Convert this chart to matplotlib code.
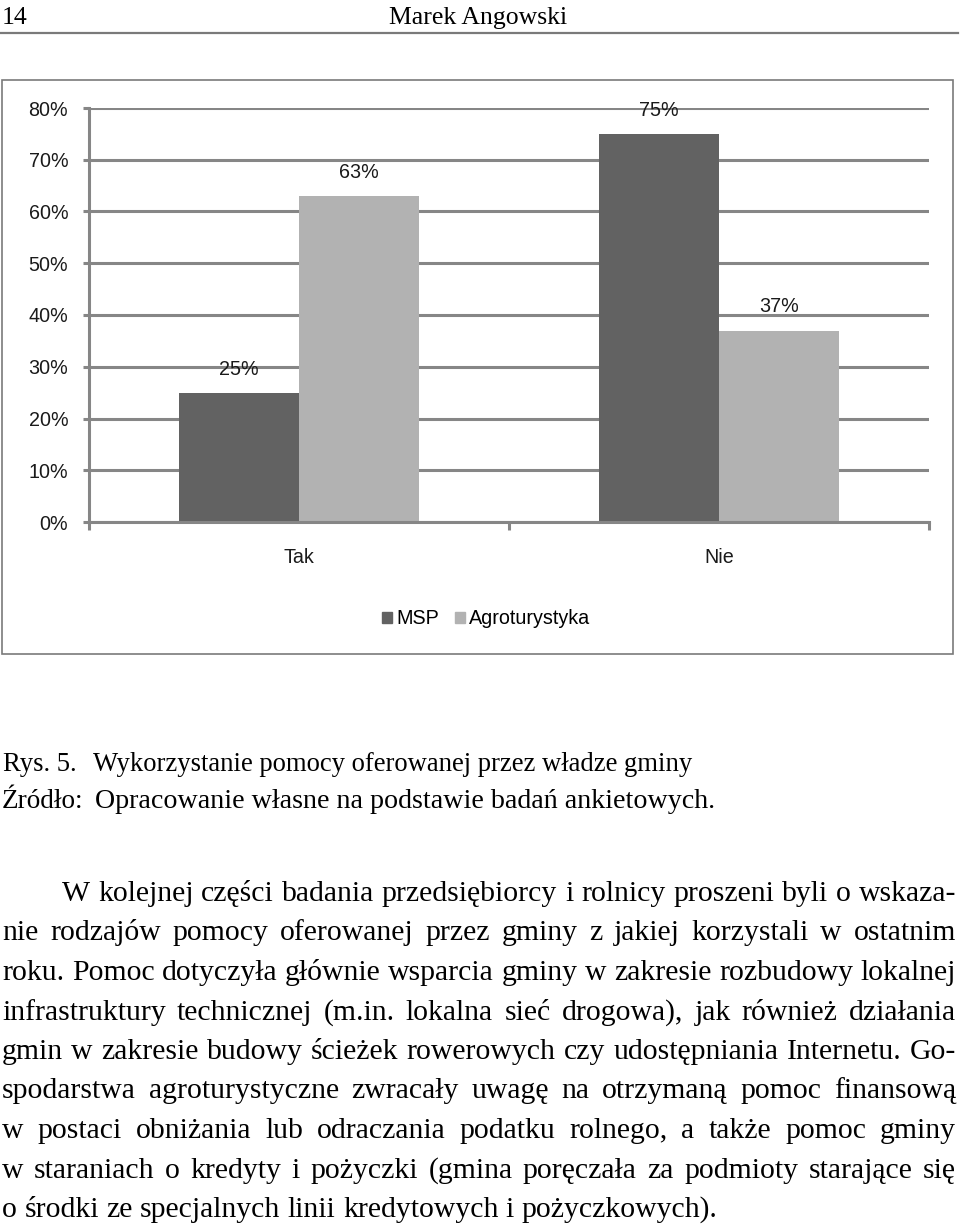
import matplotlib
matplotlib.use('Agg')
import matplotlib.pyplot as plt
from matplotlib import font_manager
from matplotlib.patches import Rectangle, Patch
from matplotlib.lines import Line2D
import numpy as np

W, H = 960, 1228

categories = ['Tak', 'Nie']
msp = [25, 75]
agro = [63, 37]
series_names = ['MSP', 'Agroturystyka']
yticks = [0, 10, 20, 30, 40, 50, 60, 70, 80]

header_page = '14'
header_author = 'Marek Angowski'
caption_num = 'Rys. 5.'
caption_text = 'Wykorzystanie pomocy oferowanej przez władze gminy'
source_head = 'Źródło:'
source_text = 'Opracowanie własne na podstawie badań ankietowych.'
body_lines = [
    'W kolejnej części badania przedsiębiorcy i rolnicy proszeni byli o wskaza-',
    'nie rodzajów pomocy oferowanej przez gminy z jakiej korzystali w ostatnim',
    'roku. Pomoc dotyczyła głównie wsparcia gminy w zakresie rozbudowy lokalnej',
    'infrastruktury technicznej (m.in. lokalna sieć drogowa), jak również działania',
    'gmin w zakresie budowy ścieżek rowerowych czy udostępniania Internetu. Go-',
    'spodarstwa agroturystyczne zwracały uwagę na otrzymaną pomoc finansową',
    'w postaci obniżania lub odraczania podatku rolnego, a także pomoc gminy',
    'w staraniach o kredyty i pożyczki (gmina poręczała za podmioty starające się',
    'o środki ze specjalnych linii kredytowych i pożyczkowych).',
]

names = {f.name for f in font_manager.fontManager.ttflist}
if 'Liberation Sans Narrow' in names:
    SANS, SANS_SIZE = 'Liberation Sans Narrow', 15.5
else:
    SANS, SANS_SIZE = 'Liberation Sans', 14.2
SERIF = 'Liberation Serif'
BODY = 21.4

GRAY = '#868686'
DARK = '#626262'
LIGHT = '#b2b2b2'
INK = '#1a1a1a'


def fx(px):
    return px / W


def fy(py):
    return 1 - py / H


fig = plt.figure(figsize=(W / 100, H / 100), dpi=100)
r = fig.canvas.get_renderer()

# header
fig.text(fx(2), fy(24), header_page, family=SERIF, fontsize=18.5, va='baseline')
fig.text(fx(478), fy(24), header_author, family=SERIF, fontsize=18.5, va='baseline', ha='center')
fig.add_artist(Line2D([0, fx(958)], [fy(33), fy(33)], color='#7a7a7a', lw=1.6))

# chart frame
fig.add_artist(Rectangle((fx(2), fy(654)), fx(951), (654 - 80) / H, transform=fig.transFigure,
                         fill=False, edgecolor='#7a7a7a', lw=1.2))

ax = fig.add_axes([fx(89), fy(522), fx(840), (522 - 108) / H])
x = np.arange(len(categories))
w = 0.286
b1 = ax.bar(x - w / 2, msp, w, color=DARK, zorder=3)
b2 = ax.bar(x + w / 2, agro, w, color=LIGHT, zorder=3)
for bars, vals in ((b1, msp), (b2, agro)):
    for b, v in zip(bars, vals):
        ax.annotate(f'{v}%', (b.get_x() + b.get_width() / 2, v), xytext=(0, 17),
                    textcoords='offset points', ha='center', va='center',
                    family=SANS, fontsize=SANS_SIZE, color=INK)

ax.set_xlim(-0.5, len(categories) - 0.5)
ax.set_ylim(0, 80)
ax.set_yticks(yticks)
ax.set_yticklabels([f'{t}%' for t in yticks], family=SANS, fontsize=SANS_SIZE, color=INK)
ax.set_xticks(x)
ax.set_xticklabels(categories, family=SANS, fontsize=SANS_SIZE, color=INK)
ax.set_xticks(np.arange(len(categories) + 1) - 0.5, minor=True)
ax.tick_params(axis='x', which='major', length=0, pad=18.5)
ax.tick_params(axis='x', which='minor', length=6, width=2.2, color=GRAY, direction='out')
ax.tick_params(axis='y', length=4.5, width=2.2, color=GRAY, pad=10.5)
ax.grid(axis='y', color=GRAY, lw=2.2, zorder=0)
ax.set_axisbelow(True)
for s in ('top', 'right'):
    ax.spines[s].set_visible(False)
for s in ('left', 'bottom'):
    ax.spines[s].set_color(GRAY)
    ax.spines[s].set_linewidth(2.2)
ax.spines['bottom'].set_zorder(4)

handles = [Patch(color=DARK), Patch(color=LIGHT)]
fig.legend(handles, series_names, loc='center', bbox_to_anchor=(fx(486), fy(619)), ncol=2,
           frameon=False, prop={'family': SANS, 'size': SANS_SIZE}, handlelength=0.5,
           handleheight=0.5, handletextpad=0.2, columnspacing=0.8)

# caption
fig.text(fx(3), fy(771), caption_num, family=SERIF, fontsize=19.2, va='baseline')
fig.text(fx(93), fy(771), caption_text, family=SERIF, fontsize=19.2, va='baseline')
fig.text(fx(2), fy(808), source_head, family=SERIF, fontsize=19.6, va='baseline')
fig.text(fx(95), fy(808), source_text, family=SERIF, fontsize=20.2, va='baseline')


def put_line(line, y, x0, x1, justify):
    words = line.split()
    texts = [fig.text(0, fy(y), wd, family=SERIF, fontsize=BODY, va='baseline') for wd in words]
    widths = [t.get_window_extent(r).width for t in texts]
    if justify and len(words) > 1:
        gap = (x1 - x0 - sum(widths)) / (len(words) - 1)
    else:
        gap = BODY * 100 / 72 * 0.25
    pos = x0
    for t, wd in zip(texts, widths):
        t.set_x(fx(pos))
        pos += wd + gap


for i, line in enumerate(body_lines):
    x0 = 62 if i == 0 else 2
    put_line(line, 901 + 39.5 * i, x0, 956, i < len(body_lines) - 1)

fig.savefig('out.png', dpi=100)
